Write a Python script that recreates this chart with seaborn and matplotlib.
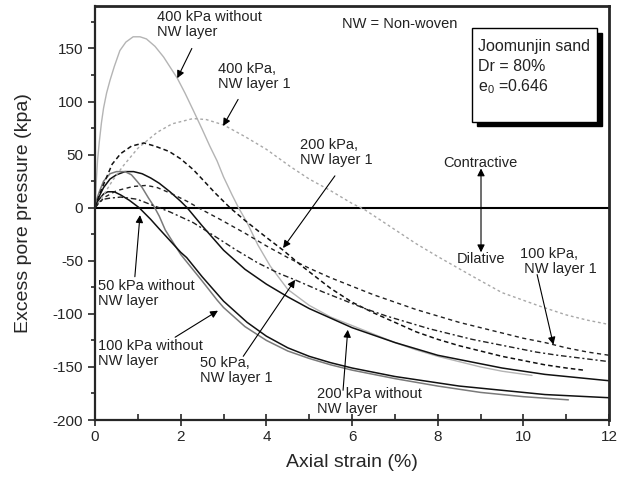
import matplotlib
matplotlib.use("Agg")
import matplotlib.pyplot as plt
from matplotlib.patches import Rectangle
import pandas as pd
import seaborn as sns

# Axial strain (%) / excess pore pressure (kPa) for each test
strain_400_plain = [0, 0.03, 0.06, 0.1, 0.15, 0.2, 0.27, 0.35, 0.45, 0.58, 0.72, 0.89, 1.05, 1.2,
                    1.4, 1.6, 1.92, 2.1, 2.29, 2.5, 2.68, 2.85, 3.0, 3.2, 3.35, 3.55, 3.8, 4.09,
                    4.5, 5.0, 5.5, 6.0, 6.5, 7.0, 7.5, 8.0, 8.5, 9.0, 9.5, 10.2]
pwp_400_plain = [0, 25, 45, 62, 80, 94, 108, 120, 133, 148, 156, 161, 161, 159,
                 152, 142, 122, 108, 92, 74, 58, 44, 29, 12, 0, -14, -35, -55,
                 -77, -92, -103, -111, -119, -127, -134, -140, -145, -150, -154, -158]

strain_200_plain = [0, 0.05, 0.1, 0.2, 0.35, 0.5, 0.7, 0.9, 1.1, 1.3, 1.5, 1.75, 2.0, 2.15, 2.5,
                    3.0, 3.5, 4.0, 4.5, 5.0, 5.5, 6.0, 6.5, 7.0, 7.5, 8.0, 8.5, 9.0, 9.5, 10.0,
                    10.5, 11.0, 11.5, 12.0]
pwp_200_plain = [0, 6, 11, 19, 27, 31, 34, 34, 32, 28, 23, 15, 6, 0, -17,
                 -40, -58, -72, -84, -95, -104, -113, -120, -127, -133, -139, -143, -147, -151, -154,
                 -157, -159, -161, -163]

strain_100_plain = [0, 0.05, 0.1, 0.2, 0.35, 0.5, 0.7, 0.85, 1.0, 1.1, 1.25, 1.38, 1.5, 1.64, 2.0,
                    2.5, 2.85, 3.0, 3.5, 4.0, 4.5, 5.0, 5.5, 6.0, 7.0, 8.0, 8.5, 9.0, 10.0, 11.05]
pwp_100_plain = [0, 9, 15, 25, 32, 34, 34, 31, 24, 19, 9, 1, -8, -21, -44,
                 -69, -87, -94, -112, -125, -135, -142, -148, -153, -161, -168, -171, -174, -178, -181]

strain_50_plain = [0, 0.05, 0.1, 0.2, 0.3, 0.45, 0.6, 0.8, 1.03, 1.3, 1.5, 2.0, 2.14, 2.5, 3.0,
                   3.55, 4.0, 4.5, 5.0, 5.5, 6.0, 6.5, 7.0, 7.5, 8.0, 8.5, 9.0, 9.5, 10.0, 10.5,
                   11.0, 11.5, 12.0]
pwp_50_plain = [0, 5, 8, 13, 15, 15, 12, 7, 0, -11, -20, -42, -47, -65, -88,
                -108, -121, -132, -140, -146, -151, -155, -159, -162, -165, -168, -170, -172, -174, -176,
                -177, -178, -179]

strain_400_nw = [0, 0.2, 0.4, 0.65, 1.0, 1.45, 1.8, 2.29, 2.6, 3.0, 3.5, 4.0, 4.55, 5.0, 5.5,
                 6.0, 6.3, 6.9, 7.5, 8.0, 8.83, 9.5, 10.4, 11.0, 11.5, 12.0]
pwp_400_nw = [0, 12, 25, 39, 56, 71, 79, 84, 83, 78, 67, 55, 39, 27, 16,
              4, -2, -18, -34, -46, -65, -80, -93, -101, -106, -110]

strain_200_nw = [0, 0.1, 0.2, 0.4, 0.6, 0.85, 1.14, 1.4, 1.73, 2.0, 2.29, 2.5, 2.8, 3.15, 3.5,
                 4.0, 4.39, 4.8, 5.18, 5.5, 6.0, 6.5, 7.0, 7.5, 8.0, 8.5, 9.0, 9.5, 10.0, 10.5,
                 11.0, 11.4]
pwp_200_nw = [0, 12, 22, 41, 51, 58, 61, 58, 53, 46, 36, 27, 14, 0, -12,
              -28, -40, -54, -66, -76, -89, -99, -108, -117, -124, -130, -135, -140, -144, -148,
              -151, -153]

strain_100_nw = [0, 0.1, 0.23, 0.5, 0.89, 1.2, 1.45, 1.8, 2.15, 2.5, 2.92, 3.5, 4.0, 4.5, 5.0,
                 5.5, 6.0, 6.5, 7.0, 7.5, 8.0, 8.5, 9.0, 9.5, 10.0, 10.5, 11.0, 11.5, 12.0]
pwp_100_nw = [0, 5, 10, 16, 20, 21, 19, 13, 6, -2, -11, -24, -36, -47, -57,
              -66, -74, -82, -89, -96, -102, -108, -113, -118, -123, -127, -132, -136, -139]

strain_50_nw = [0, 0.1, 0.2, 0.35, 0.6, 0.98, 1.3, 1.75, 2.29, 2.8, 3.3, 3.8, 4.3, 4.67, 5.3,
                5.8, 6.3, 6.8, 7.3, 7.8, 8.3, 8.8, 9.3, 9.8, 10.3, 10.8, 11.4, 12.0]
pwp_50_nw = [0, 5, 8, 9, 10, 8, 3, -4, -14, -27, -40, -52, -62, -68, -79,
             -87, -95, -102, -108, -114, -119, -124, -128, -132, -136, -139, -142, -145]

x_ticks = [0, 2, 4, 6, 8, 10, 12]
y_ticks = [-200, -150, -100, -50, 0, 50, 100, 150]

sns.set_style("ticks")
plt.rcParams["font.family"] = ["Liberation Sans", "DejaVu Sans"]
plt.rcParams["mathtext.fontset"] = "custom"
plt.rcParams["mathtext.rm"] = "Liberation Sans"
plt.rcParams["axes.unicode_minus"] = False

fig = plt.figure(figsize=(6.19, 4.88), dpi=100)
ax = fig.add_axes([0.1535, 0.1393, 0.8305, 0.8484])

curves = [
    (strain_400_plain, pwp_400_plain, "#b4b4b4", "-", 1.0),
    (strain_200_plain, pwp_200_plain, "#111111", "-", 1.1),
    (strain_100_plain, pwp_100_plain, "#7a7a7a", "-", 1.1),
    (strain_50_plain, pwp_50_plain, "#111111", "-", 1.1),
    (strain_400_nw, pwp_400_nw, "#a8a8a8", (0, (2, 2)), 1.0),
    (strain_200_nw, pwp_200_nw, "#111111", (0, (3, 2)), 1.1),
    (strain_100_nw, pwp_100_nw, "#222222", (0, (3, 2.5)), 1.0),
    (strain_50_nw, pwp_50_nw, "#222222", (0, (4, 2, 1.5, 2)), 1.0),
]
for xs, ys, col, ls, lw in curves:
    df = pd.DataFrame({"strain": xs, "pwp": ys})
    sns.lineplot(data=df, x="strain", y="pwp", ax=ax, color=col, linestyle=ls,
                 linewidth=lw, sort=False, estimator=None)

ax.axhline(0, color="black", linewidth=1.5, zorder=1)

ax.set_xlim(0, 12)
ax.set_ylim(-200, 190)
ax.set_xticks(x_ticks)
ax.set_yticks(y_ticks)
ax.set_xticks(range(1, 12, 2), minor=True)
ax.set_yticks(range(-175, 190, 50), minor=True)
ax.tick_params(axis="x", which="major", direction="inout", length=8, width=1.2, labelsize=11)
ax.tick_params(axis="x", which="minor", direction="in", length=4, width=1.2)
ax.tick_params(axis="y", which="major", direction="out", length=5, width=1.2, labelsize=11)
ax.tick_params(axis="y", which="minor", direction="out", length=3, width=1.2)
for side in ["left", "bottom"]:
    ax.spines[side].set_linewidth(1.6)
for side in ["top", "right"]:
    ax.spines[side].set_linewidth(2.0)
    ax.spines[side].set_visible(True)

ax.set_xlabel("Axial strain (%)", fontsize=14, labelpad=7)
ax.set_ylabel("Excess pore pressure (kpa)", fontsize=14, labelpad=15)

arrow = dict(arrowstyle="-|>", color="black", lw=0.8, mutation_scale=11, shrinkA=0, shrinkB=0)
fs = 10.5
ax.text(1.45, 186, "400 kPa without\nNW layer", fontsize=fs, va="top", color="#222222", linespacing=1.1)
ax.annotate("", xy=(1.92, 122), xytext=(2.26, 150), arrowprops=arrow)
ax.text(2.87, 137, "400 kPa,\nNW layer 1", fontsize=fs, va="top", color="#222222", linespacing=1.1)
ax.annotate("", xy=(2.99, 77), xytext=(3.34, 102), arrowprops=arrow)
ax.text(4.79, 66, "200 kPa,\nNW layer 1", fontsize=fs, va="top", color="#222222", linespacing=1.1)
ax.annotate("", xy=(4.39, -38), xytext=(5.6, 30), arrowprops=arrow)
ax.text(0.07, -67, "50 kPa without\nNW layer", fontsize=fs, va="top", color="#222222", linespacing=1.1)
ax.annotate("", xy=(1.05, -7), xytext=(0.93, -65), arrowprops=arrow)
ax.text(0.07, -124, "100 kPa without\nNW layer", fontsize=fs, va="top", color="#222222", linespacing=1.1)
ax.annotate("", xy=(2.87, -97), xytext=(1.87, -122), arrowprops=arrow)
ax.text(2.45, -140, "50 kPa,\nNW layer 1", fontsize=fs, va="top", color="#222222", linespacing=1.1)
ax.annotate("", xy=(4.67, -68), xytext=(3.46, -140), arrowprops=arrow)
ax.text(5.18, -169, "200 kPa without\nNW layer", fontsize=fs, va="top", color="#222222", linespacing=1.1)
ax.annotate("", xy=(5.9, -115), xytext=(5.79, -172), arrowprops=arrow)
ax.text(9.92, -37, "100 kPa,\n NW layer 1", fontsize=fs, va="top", color="#222222", linespacing=1.1)
ax.annotate("", xy=(10.7, -129), xytext=(10.32, -63), arrowprops=arrow)

ax.text(5.77, 173, "NW = Non-woven", fontsize=fs, va="center", color="#222222")
ax.text(9.0, 42, "Contractive", fontsize=fs, ha="center", va="center", color="#222222")
ax.text(9.02, -48, "Dilative", fontsize=fs, ha="center", va="center", color="#222222")
ax.annotate("", xy=(9.01, 37), xytext=(9.01, -42),
            arrowprops=dict(arrowstyle="<|-|>", color="black", lw=0.8, mutation_scale=11,
                            shrinkA=0, shrinkB=0))

# info box with drop shadow
ax.add_patch(Rectangle((8.91, 76.5), 2.92, 88, facecolor="black", edgecolor="black", zorder=5))
ax.add_patch(Rectangle((8.8, 81), 2.92, 88, facecolor="white", edgecolor="black", lw=1.0, zorder=6))
ax.text(8.94, 152, "Joomunjin sand", fontsize=11.5, va="center", zorder=7, color="#222222")
ax.text(8.94, 133, "Dr = 80%", fontsize=11.5, va="center", zorder=7, color="#222222")
ax.text(8.94, 114, r"e$_{\mathregular{0}}$ =0.646", fontsize=11.5, va="center", zorder=7, color="#222222")

fig.savefig("out.png", dpi=100)
